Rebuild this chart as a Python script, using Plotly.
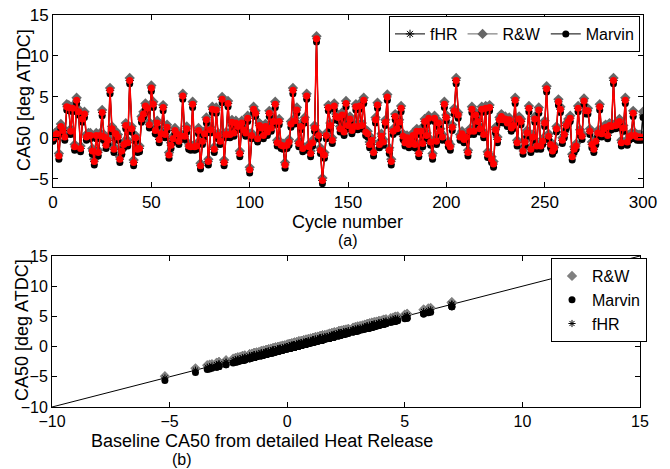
import plotly.graph_objects as go

# CA50 from detailed heat release (red), cycles 0..299
ca50_detailed = [
 0.0, 0.3, 0.5, -2.2, 1.4, 0.9, 0.1, 3.8, 3.7, 0.8,
 3.6, -1.1, 4.6, 3.2, -1.3, 2.3, 2.9, 0.1, 0.3, 0.3,
 -1.6, -2.9, 0.3, -1.8, 0.3, 3.1, 0.1, -0.9, -0.3, 5.8,
 1.1, -1.4, 0.5, 0.1, -2.6, -1.6, -0.8, 1.5, -0.6, 7.0,
 1.1, -3.0, 0.0, -1.4, -1.3, 2.3, 2.9, 3.9, 3.6, 1.6,
 6.1, 4.1, 0.9, 1.8, -0.2, 0.5, 3.7, 0.4, 1.3, -2.1,
 -0.9, -0.1, 0.9, 0.5, -0.4, 0.2, 5.1, 0.2, 1.1, -1.0,
 -1.1, 4.1, -1.1, -1.0, 0.9, -3.4, -0.4, 0.5, 2.2, -2.9,
 1.0, 3.5, -1.4, 3.4, 0.3, -0.4, 4.7, -3.0, 0.4, 4.2,
 0.4, 1.9, 0.6, 1.8, 1.4, -1.9, 1.8, 1.0, 0.6, 2.4,
 -3.9, 0.3, 3.5, 3.0, -0.1, 1.5, 1.2, 0.3, 1.4, 0.7,
 3.0, 1.2, 2.0, 4.1, -0.6, 2.0, -0.9, -1.0, -3.3, -0.9,
 -0.5, 1.7, 5.8, 2.1, 3.4, -0.7, 1.4, -1.3, 2.2, 5.1,
 -1.1, -1.9, -0.6, 1.2, 12.1, 0.3, -1.5, -5.2, -2.1, 0.3,
 3.7, 1.5, -0.3, 3.9, 2.6, 2.5, 1.1, 2.8, 0.7, 4.2,
 1.5, 2.3, 0.9, 1.4, 3.8, 1.4, 3.9, 1.5, 4.6, 0.7,
 0.5, -0.8, -0.3, -1.8, 2.2, 4.0, -0.8, 0.2, -0.5, 1.9,
 5.0, -1.5, -2.9, 0.8, 2.6, 1.1, 1.9, 3.6, 0.2, -0.6,
 0.0, -0.8, -0.2, 0.3, -0.8, 0.8, -1.9, 0.8, -0.7, 2.0,
 0.3, 2.4, -0.5, -2.2, 2.4, -0.4, 1.8, 0.8, 0.1, 4.1,
 2.5, -0.7, -1.1, 1.3, 3.3, 7.0, 2.8, 0.1, 0.5, -0.2,
 0.1, -1.8, 0.8, 3.5, 0.8, 2.8, 2.0, 1.1, 3.5, 0.4,
 3.6, -2.0, 3.7, -2.6, -3.2, 1.0, -0.2, 2.2, 2.6, 2.2,
 2.3, 1.8, 2.2, 1.2, 1.5, 4.6, -0.6, 2.3, 2.0, -1.6,
 -0.5, 0.6, 3.6, -1.4, 0.1, 2.3, -1.0, 3.4, -1.0, -0.4,
 1.8, 6.0, 0.2, -0.8, -1.6, -1.2, 1.1, 4.4, 3.5, -0.3,
 0.4, 1.5, 2.0, 2.4, -2.3, -1.4, -1.0, 3.6, 0.7, 0.2,
 4.5, 3.3, 3.3, 0.8, -0.8, -1.4, -0.4, 0.6, 3.8, 0.5,
 1.1, 1.3, 0.3, 1.5, 1.4, 7.0, 1.5, 1.6, 2.0, -0.6,
 1.2, 4.6, -0.5, 0.1, 0.3, 3.0, 0.3, 0.1, 0.1, 0.1,
]

# Estimates, cycles 0..300
ca50_rw = [
 0.3, 0.6, 0.8, -1.9, 1.7, 1.2, 0.4, 4.1, 4.0, 1.1,
 3.9, -0.8, 4.9, 3.5, -1.0, 2.6, 3.2, 0.4, 0.6, 0.6,
 -1.3, -2.6, 0.6, -1.5, 0.6, 3.4, 0.4, -0.6, 0.0, 6.1,
 1.4, -1.1, 0.8, 0.4, -2.3, -1.3, -0.5, 1.8, -0.3, 7.3,
 1.4, -2.7, 0.3, -1.1, -1.0, 2.6, 3.2, 4.2, 3.9, 1.9,
 6.4, 4.4, 1.2, 2.1, 0.1, 0.8, 4.0, 0.7, 1.6, -1.8,
 -0.6, 0.2, 1.2, 0.8, -0.1, 0.5, 5.4, 0.5, 1.4, -0.7,
 -0.8, 4.4, -0.8, -0.7, 1.2, -3.1, -0.1, 0.8, 2.5, -2.6,
 1.3, 3.8, -1.1, 3.7, 0.6, -0.1, 5.0, -2.7, 0.7, 4.5,
 0.7, 2.2, 0.9, 2.1, 1.7, -1.6, 2.1, 1.3, 0.9, 2.7,
 -3.6, 0.6, 3.8, 3.3, 0.2, 1.8, 1.5, 0.6, 1.7, 1.0,
 3.3, 1.5, 2.3, 4.4, -0.3, 2.3, -0.6, -0.7, -3.0, -0.6,
 -0.2, 2.0, 6.1, 2.4, 3.7, -0.4, 1.7, -1.0, 2.5, 5.4,
 -0.8, -1.6, -0.3, 1.5, 12.4, 0.6, -1.2, -4.9, -1.8, 0.6,
 4.0, 1.8, 0.0, 4.2, 2.9, 2.8, 1.4, 3.1, 1.0, 4.5,
 1.8, 2.6, 1.2, 1.7, 4.1, 1.7, 4.2, 1.8, 4.9, 1.0,
 0.8, -0.5, 0.0, -1.5, 2.5, 4.3, -0.5, 0.5, -0.2, 2.2,
 5.3, -1.2, -2.6, 1.1, 2.9, 1.4, 2.2, 3.9, 0.5, -0.3,
 0.3, -0.5, 0.1, 0.6, -0.5, 1.1, -1.6, 1.1, -0.4, 2.3,
 0.6, 2.7, -0.2, -1.9, 2.7, -0.1, 2.1, 1.1, 0.4, 4.4,
 2.8, -0.4, -0.8, 1.6, 3.6, 7.3, 3.1, 0.4, 0.8, 0.1,
 0.4, -1.5, 1.1, 3.8, 1.1, 3.1, 2.3, 1.4, 3.8, 0.7,
 3.9, -1.7, 4.0, -2.3, -2.9, 1.3, 0.1, 2.5, 2.9, 2.5,
 2.6, 2.1, 2.5, 1.5, 1.8, 4.9, -0.3, 2.6, 2.3, -1.3,
 -0.2, 0.9, 3.9, -1.1, 0.4, 2.6, -0.7, 3.7, -0.7, -0.1,
 2.1, 6.3, 0.5, -0.5, -1.3, -0.9, 1.4, 4.7, 3.8, 0.0,
 0.7, 1.8, 2.3, 2.7, -2.0, -1.1, -0.7, 3.9, 1.0, 0.5,
 4.8, 3.6, 3.6, 1.1, -0.5, -1.1, -0.1, 0.9, 4.1, 0.8,
 1.4, 1.6, 0.6, 1.8, 1.7, 7.3, 1.8, 1.9, 2.3, -0.3,
 1.5, 4.9, -0.2, 0.4, 0.6, 3.3, 0.6, 0.4, 0.4, 0.4,
 3.2,
]

ca50_marvin = [
 -0.4, -0.1, 0.1, -2.6, 1.0, 0.5, -0.3, 3.4, 3.3, 0.4,
 3.2, -1.5, 4.2, 2.8, -1.7, 1.9, 2.5, -0.3, -0.1, -0.1,
 -2.0, -3.3, -0.1, -2.2, -0.1, 2.7, -0.3, -1.3, -0.7, 5.4,
 0.7, -1.8, 0.1, -0.3, -3.0, -2.0, -1.2, 1.1, -1.0, 6.6,
 0.7, -3.4, -0.4, -1.8, -1.7, 1.9, 2.5, 3.5, 3.2, 1.2,
 5.7, 3.7, 0.5, 1.4, -0.6, 0.1, 3.3, 0.0, 0.9, -2.5,
 -1.3, -0.5, 0.5, 0.1, -0.8, -0.2, 4.7, -0.2, 0.7, -1.4,
 -1.5, 3.7, -1.5, -1.4, 0.5, -3.8, -0.8, 0.1, 1.8, -3.3,
 0.6, 3.1, -1.8, 3.0, -0.1, -0.8, 4.3, -3.4, 0.0, 3.8,
 0.0, 1.5, 0.2, 1.4, 1.0, -2.3, 1.4, 0.6, 0.2, 2.0,
 -4.3, -0.1, 3.1, 2.6, -0.5, 1.1, 0.8, -0.1, 1.0, 0.3,
 2.6, 0.8, 1.6, 3.7, -1.0, 1.6, -1.3, -1.4, -3.7, -1.3,
 -0.9, 1.3, 5.4, 1.7, 3.0, -1.1, 1.0, -1.7, 1.8, 4.7,
 -1.5, -2.3, -1.0, 0.8, 11.7, -0.1, -1.9, -5.6, -2.5, -0.1,
 3.3, 1.1, -0.7, 3.5, 2.2, 2.1, 0.7, 2.4, 0.3, 3.8,
 1.1, 1.9, 0.5, 1.0, 3.4, 1.0, 3.5, 1.1, 4.2, 0.3,
 0.1, -1.2, -0.7, -2.2, 1.8, 3.6, -1.2, -0.2, -0.9, 1.5,
 4.6, -1.9, -3.3, 0.4, 2.2, 0.7, 1.5, 3.2, -0.2, -1.0,
 -0.4, -1.2, -0.6, -0.1, -1.2, 0.4, -2.3, 0.4, -1.1, 1.6,
 -0.1, 2.0, -0.9, -2.6, 2.0, -0.8, 1.4, 0.4, -0.3, 3.7,
 2.1, -1.1, -1.5, 0.9, 2.9, 6.6, 2.4, -0.3, 0.1, -0.6,
 -0.3, -2.2, 0.4, 3.1, 0.4, 2.4, 1.6, 0.7, 3.1, 0.0,
 3.2, -2.4, 3.3, -3.0, -3.6, 0.6, -0.6, 1.8, 2.2, 1.8,
 1.9, 1.4, 1.8, 0.8, 1.1, 4.2, -1.0, 1.9, 1.6, -2.0,
 -0.9, 0.2, 3.2, -1.8, -0.3, 1.9, -1.4, 3.0, -1.4, -0.8,
 1.4, 5.6, -0.2, -1.2, -2.0, -1.6, 0.7, 4.0, 3.1, -0.7,
 0.0, 1.1, 1.6, 2.0, -2.7, -1.8, -1.4, 3.2, 0.3, -0.2,
 4.1, 2.9, 2.9, 0.4, -1.2, -1.8, -0.8, 0.2, 3.4, 0.1,
 0.7, 0.9, -0.1, 1.1, 1.0, 6.6, 1.1, 1.2, 1.6, -1.0,
 0.8, 4.2, -0.9, -0.3, -0.1, 2.6, -0.1, -0.3, -0.3, -0.3,
 2.5,
]

ca50_fhr = ca50_detailed + [2.8]

cycles_est = list(range(len(ca50_rw)))
cycles_det = list(range(len(ca50_detailed)))

# cycle excluded from the correlation panel (outlier not shown there)
excluded_cycles = [134]
idx_b = [i for i in cycles_det if i not in excluded_cycles]
base_b = [ca50_detailed[i] for i in idx_b]
rw_b = [ca50_rw[i] for i in idx_b]
marvin_b = [ca50_marvin[i] for i in idx_b]
fhr_b = [ca50_fhr[i] for i in idx_b]

ref_line = [-10, 15]

x_ticks_a = [0, 50, 100, 150, 200, 250, 300]
y_ticks_a = [-5, 0, 5, 10, 15]
ticks_b = [-10, -5, 0, 5, 10, 15]

FONT = "Liberation Sans, Arial, sans-serif"
GRAY = "#666666"

fig = go.Figure()

# ---- panel (a)
fig.add_trace(go.Scatter(x=cycles_est, y=ca50_fhr, mode="lines+markers", name="fHR",
                         line=dict(color="black", width=1),
                         marker=dict(symbol="asterisk-open", size=7, color="black", line=dict(width=1, color="black")),
                         xaxis="x", yaxis="y", legend="legend"))
fig.add_trace(go.Scatter(x=cycles_est, y=ca50_rw, mode="lines+markers", name="R&W",
                         line=dict(color=GRAY, width=1),
                         marker=dict(symbol="diamond", size=8, color=GRAY),
                         xaxis="x", yaxis="y", legend="legend"))
fig.add_trace(go.Scatter(x=cycles_est, y=ca50_marvin, mode="lines+markers", name="Marvin",
                         line=dict(color="black", width=1),
                         marker=dict(symbol="circle", size=7, color="black"),
                         xaxis="x", yaxis="y", legend="legend"))
fig.add_trace(go.Scatter(x=cycles_det, y=ca50_detailed, mode="lines+markers", name="Detailed",
                         line=dict(color="red", width=1.5),
                         marker=dict(symbol="circle", size=7, color="red"),
                         xaxis="x", yaxis="y", showlegend=False))

# ---- panel (b)
fig.add_trace(go.Scatter(x=ref_line, y=ref_line, mode="lines", line=dict(color="black", width=1),
                         xaxis="x2", yaxis="y2", showlegend=False))
fig.add_trace(go.Scatter(x=base_b, y=rw_b, mode="markers", name="R&W",
                         marker=dict(symbol="diamond", size=8, color="#808080"),
                         xaxis="x2", yaxis="y2", legend="legend2"))
fig.add_trace(go.Scatter(x=base_b, y=marvin_b, mode="markers", name="Marvin",
                         marker=dict(symbol="circle", size=7, color="black"),
                         xaxis="x2", yaxis="y2", legend="legend2"))
fig.add_trace(go.Scatter(x=base_b, y=fhr_b, mode="markers", name="fHR",
                         marker=dict(symbol="asterisk-open", size=6, color="black", line=dict(width=1, color="black")),
                         xaxis="x2", yaxis="y2", legend="legend2"))

W, H = 670, 469
def px_x(p):
    return p / W
def px_y(p):
    return 1 - p / H

def axis_style(tsize):
    return dict(showline=True, linecolor="black", linewidth=1, mirror="ticks",
                ticks="inside", ticklen=5, tickcolor="black", showgrid=False, zeroline=False,
                automargin=False,
                tickfont=dict(family=FONT, size=tsize, color="black"))

def ann(text, x, y, size=18, angle=0):
    return dict(text=text, x=px_x(x), y=px_y(y), xref="paper", yref="paper",
                xanchor="center", yanchor="middle", textangle=angle,
                showarrow=False, font=dict(family=FONT, size=size, color="black"))

fig.update_layout(
    width=W, height=H, margin=dict(l=0, r=0, t=0, b=0, autoexpand=False),
    paper_bgcolor="white", plot_bgcolor="white",
    font=dict(family=FONT, size=18, color="black"),
    xaxis=dict(domain=[px_x(53), px_x(643)], range=[0, 300], tickvals=x_ticks_a, anchor="y", **axis_style(17)),
    yaxis=dict(domain=[px_y(187), px_y(15)], range=[-6, 15], tickvals=y_ticks_a, anchor="x", **axis_style(17)),
    xaxis2=dict(domain=[px_x(52), px_x(640)], range=[-10, 15], tickvals=ticks_b, anchor="y2", **axis_style(16)),
    yaxis2=dict(domain=[px_y(407), px_y(256)], range=[-10, 15], tickvals=ticks_b, anchor="x2", **axis_style(16)),
    legend=dict(orientation="h", x=px_x(640), y=px_y(16), xanchor="right", yanchor="top",
                bordercolor="black", borderwidth=1, bgcolor="white",
                font=dict(family=FONT, size=16), itemwidth=30, tracegroupgap=0),
    legend2=dict(orientation="v", x=px_x(551), y=px_y(258), xanchor="left", yanchor="top",
                 bordercolor="black", borderwidth=1, bgcolor="white",
                 font=dict(family=FONT, size=16), itemwidth=30, tracegroupgap=0),
    annotations=[
        ann("CA50 [deg ATDC]", 24, 100, angle=-90),
        ann("Cycle number", 347, 222),
        ann("(a)", 348, 241, size=16),
        ann("CA50 [deg ATDC]", 22, 330, angle=-90),
        ann("Baseline CA50 from detailed Heat Release", 262, 441),
        ann("(b)", 182, 459, size=16),
    ],
)

fig.write_html("out.html")
